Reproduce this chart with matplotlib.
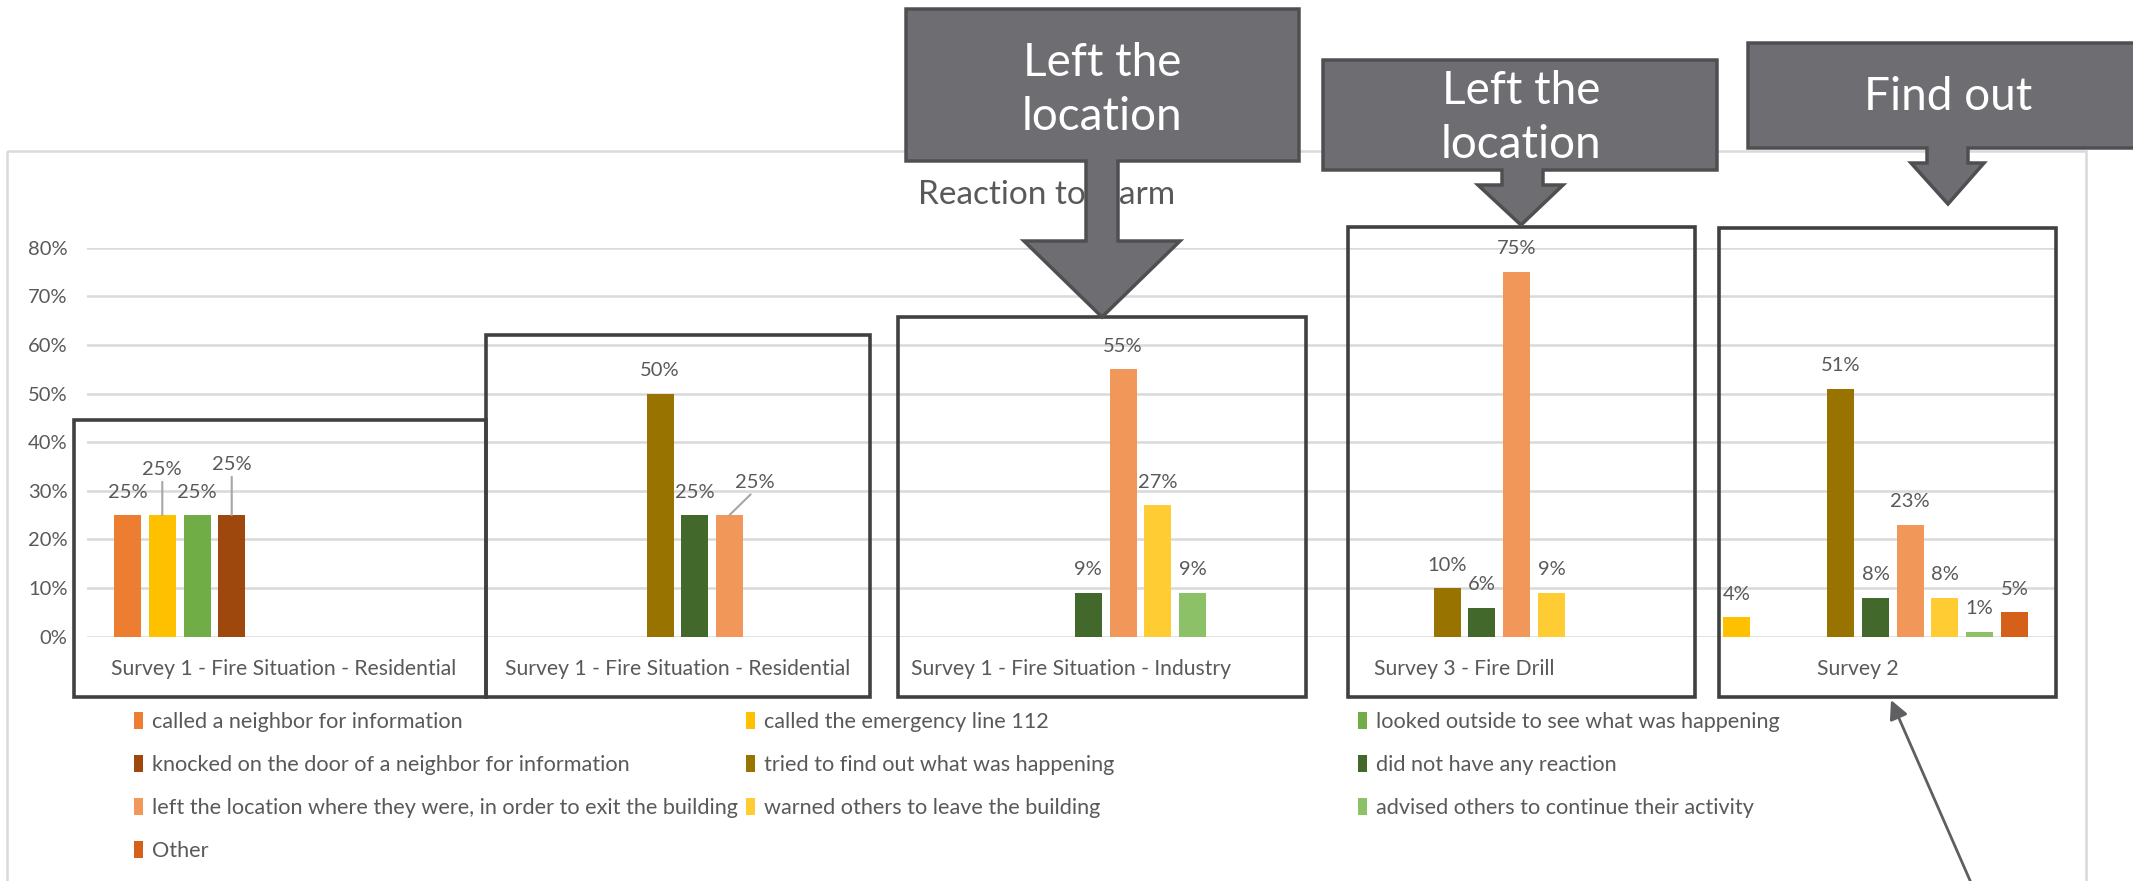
import numpy as np
import matplotlib
matplotlib.use("Agg")
import matplotlib.pyplot as plt
from matplotlib.patches import Polygon, Rectangle

plt.rcParams['font.family'] = ['Lato', 'DejaVu Sans']

# ---------------- data ----------------
categories = ["Survey 1 - Fire Situation - Residential",
              "Survey 1 - Fire Situation - Residential",
              "Survey 1 - Fire Situation - Industry",
              "Survey 3 - Fire Drill",
              "Survey 2"]
series_names = ["called a neighbor for information",
                "called the emergency line 112",
                "looked outside to see what was happening",
                "knocked on the door of a neighbor for information",
                "tried to find out what was happening",
                "did not have any reaction",
                "left the location where they were, in order to exit the building",
                "warned others to leave the building",
                "advised others to continue their activity",
                "Other"]
nan = np.nan
called_neighbor = [25, nan, nan, nan, nan]
called_112      = [25, nan, nan, nan, 4]
looked_outside  = [25, nan, nan, nan, nan]
knocked_door    = [25, nan, nan, nan, nan]
tried_find_out  = [nan, 50, nan, 10, 51]
no_reaction     = [nan, 25, 9, 6, 8]
left_location   = [nan, 25, 55, 75, 23]
warned_others   = [nan, nan, 27, 9, 8]
advised_others  = [nan, nan, 9, nan, 1]
other           = [nan, nan, nan, nan, 5]
series_values = [called_neighbor, called_112, looked_outside, knocked_door,
                 tried_find_out, no_reaction, left_location, warned_others,
                 advised_others, other]
colors = ["#ED7D31", "#FFC000", "#70AD47", "#9E480E", "#997300",
          "#43682B", "#F1975A", "#FFCD33", "#8CC168", "#D4601A"]
y_ticks = [0, 10, 20, 30, 40, 50, 60, 70, 80]
title = "Reaction to alarm"
callouts = ["Left the\nlocation", "Left the\nlocation", "Find out"]

# ---------------- figure ----------------
W, H = 2133, 881
fig = plt.figure(figsize=(W / 100, H / 100), dpi=100)
TXT = "#595959"
GRID = "#D9D9D9"

ax = fig.add_axes([87 / W, 1 - 636.7 / H, (2055 - 87) / W, (636.7 - 247.6) / H])
ax.set_xlim(-0.5, len(categories) - 0.5)
ax.set_ylim(0, 80)
for s in ax.spines.values():
    s.set_visible(False)
ax.set_yticks(y_ticks)
ax.set_yticklabels([f"{v}%" for v in y_ticks], color=TXT, fontsize=14.5)
ax.yaxis.grid(True, color=GRID, lw=1.8)
ax.set_axisbelow(True)
ax.tick_params(axis='y', length=0, pad=14)
x = np.arange(len(categories))
ax.set_xticks(x)
ax.set_xticklabels(categories, color=TXT, fontsize=15.2)
ax.tick_params(axis='x', length=0, pad=16)

slot = 0.0882
bw = 0.0686
n = len(series_values)
handles = []
special = {(1, 0): (0, 46), (3, 0): (0, 51), (6, 1): (25, 33)}
for i, (vals, col, name) in enumerate(zip(series_values, colors, series_names)):
    vals = np.array(vals, dtype=float)
    pos = x + (i - (n - 1) / 2) * slot
    m = ~np.isnan(vals)
    b = ax.bar(pos[m], vals[m], width=bw, color=col, label=name, zorder=3)
    handles.append(b)
    for px, v, ci in zip(pos[m], vals[m], x[m]):
        key = (i, ci)
        if key in special:
            dx, dy = special[key]
            ax.annotate(f"{v:.0f}%", xy=(px, v), xytext=(dx, dy),
                        textcoords='offset pixels', ha='center', va='center',
                        color=TXT, fontsize=14.5,
                        arrowprops=dict(arrowstyle='-', color='#A6A6A6', lw=1.5,
                                        shrinkA=1, shrinkB=0, relpos=(0.5, 0.0)))
        else:
            ax.annotate(f"{v:.0f}%", xy=(px, v), xytext=(0, 23),
                        textcoords='offset pixels', ha='center', va='center',
                        color=TXT, fontsize=14.5)

# legend: three columns, row-major order like Excel
col_x = [134 / W, 746 / W, 1358 / W]
cols = [[0, 3, 6, 9], [1, 4, 7], [2, 5, 8]]
for k, (cx, idx) in enumerate(zip(col_x, cols)):
    fig.legend([handles[j] for j in idx], [series_names[j] for j in idx],
               loc='upper left', bbox_to_anchor=(cx, 1 - 712 / H),
               frameon=False, fontsize=15.6, labelcolor=TXT,
               handlelength=0.42, handleheight=0.85, handletextpad=0.4,
               labelspacing=1.05, borderaxespad=0, borderpad=0)

# ---------------- overlay (pixel coordinates) ----------------
ov = fig.add_axes([0, 0, 1, 1])
ov.set_xlim(0, W)
ov.set_ylim(H, 0)
ov.axis('off')
ov.patch.set_alpha(0)

# outer chart frame
ov.add_patch(Rectangle((7, 151), 2086 - 7, 760, fill=False, ec=GRID, lw=1.8, zorder=1))
ov.text(1047, 195, title, ha='center', va='center', fontsize=24, color=TXT, zorder=2)

# category boxes
boxes = [(73.5, 420, 486, 697), (486, 335, 870, 697), (898, 317, 1306, 697),
         (1347.5, 227, 1695, 697), (1719, 228, 2056, 697)]
for (x0, y0, x1, y1) in boxes:
    ov.add_patch(Rectangle((x0, y0), x1 - x0, y1 - y0, fill=False, ec='#404040',
                           lw=2.6, zorder=4))

# callout arrows
shapes = [
    dict(box=(906, 9, 1299, 161), shaft=(1086, 1118), hy=241, head=(1024, 1180), tip=(1102, 317),
         txt=(1102, 90)),
    dict(box=(1323, 60, 1717, 170), shaft=(1502, 1543), hy=185, head=(1478, 1563), tip=(1521, 225),
         txt=(1521, 118)),
    dict(box=(1748, 43, 2150, 148), shaft=(1927, 1968), hy=163, head=(1911, 1984), tip=(1948, 204),
         txt=(1948, 97)),
]
for s, label in zip(shapes, callouts):
    x0, y0, x1, y1 = s['box']
    sx0, sx1 = s['shaft']
    hx0, hx1 = s['head']
    tx, ty = s['tip']
    hy = s['hy']
    pts = [(x0, y0), (x1, y0), (x1, y1), (sx1, y1), (sx1, hy), (hx1, hy), (tx, ty),
           (hx0, hy), (sx0, hy), (sx0, y1), (x0, y1)]
    ov.add_patch(Polygon(pts, closed=True, fc='#6E6D72', ec='#4F4F52', lw=2.5,
                         joinstyle='miter', zorder=6))
    ov.text(s['txt'][0], s['txt'][1], label, ha='center', va='center', color='white',
            fontsize=33, linespacing=1.35, zorder=7)

# pointer arrow to "Survey 2"
ov.annotate("", xy=(1891, 700), xytext=(1972, 885),
            arrowprops=dict(arrowstyle='-|>', color='#5F5F62', lw=2,
                            mutation_scale=28, shrinkA=0, shrinkB=0), zorder=6)

fig.savefig("out.png", dpi=100)
